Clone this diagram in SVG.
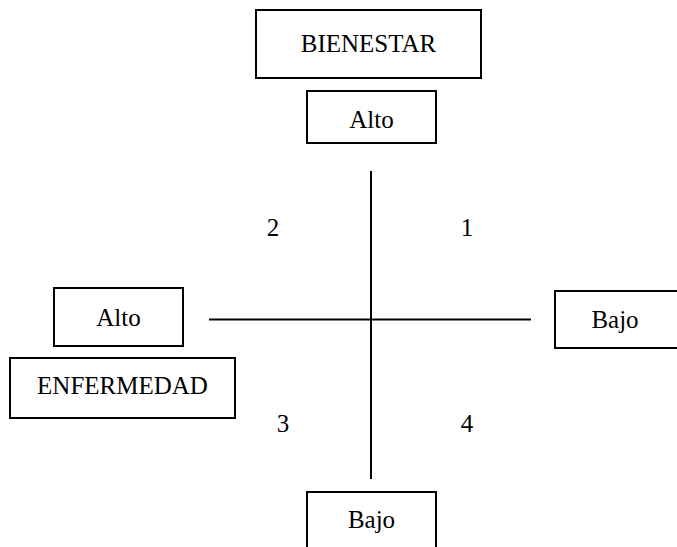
<svg xmlns="http://www.w3.org/2000/svg" width="677" height="547" viewBox="0 0 677 547">
  <style>
    .box { fill: #ffffff; stroke: #000000; stroke-width: 2; }
    .axis { stroke: #000000; stroke-width: 2; fill: none; }
    text { font-family: "Liberation Serif", "Times New Roman", serif; font-size: 25px; fill: #000000; text-anchor: middle; }
  </style>
  <rect width="677" height="547" fill="#ffffff"/>

  <g id="connectors">
    <line class="axis" x1="371" y1="171" x2="371" y2="479"/>
    <line class="axis" x1="209" y1="319.5" x2="531" y2="319.5"/>
  </g>

  <g id="bienestar">
    <rect class="box" x="256" y="10" width="225" height="68"/>
    <text x="368.5" y="52">BIENESTAR</text>
  </g>
  <g id="alto-top">
    <rect class="box" x="307" y="91" width="129" height="52"/>
    <text x="371.5" y="128">Alto</text>
  </g>
  <g id="alto-left">
    <rect class="box" x="54" y="288" width="129" height="58"/>
    <text x="118.5" y="326">Alto</text>
  </g>
  <g id="enfermedad">
    <rect class="box" x="10" y="358" width="225" height="60"/>
    <text x="122.5" y="394">ENFERMEDAD</text>
  </g>
  <g id="bajo-right">
    <rect class="box" x="555" y="291" width="130" height="57"/>
    <text x="615" y="328">Bajo</text>
  </g>
  <g id="bajo-bottom">
    <rect class="box" x="307" y="492" width="129" height="70"/>
    <text x="371.5" y="528">Bajo</text>
  </g>

  <g id="quadrants">
    <text x="273" y="236">2</text>
    <text x="467" y="236">1</text>
    <text x="283" y="432">3</text>
    <text x="467" y="432">4</text>
  </g>
</svg>
